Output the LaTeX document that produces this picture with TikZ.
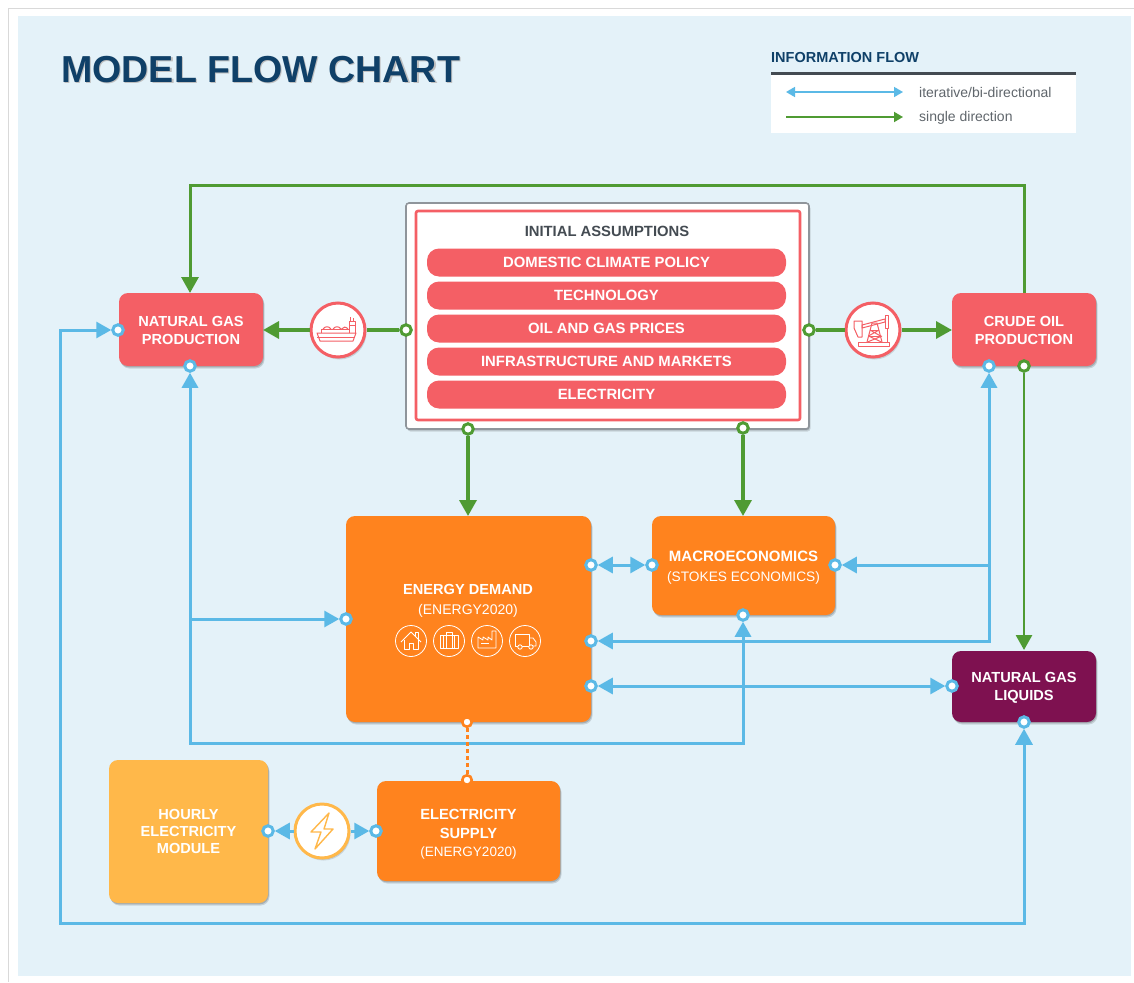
\documentclass[tikz,border=0pt]{standalone}
\usepackage{fontspec}
\setmainfont{Liberation Sans}
\usetikzlibrary{arrows.meta,shadows,positioning,calc}
\definecolor{bgblue}{HTML}{E4F2F9}
\definecolor{navy}{HTML}{0F4068}
\definecolor{lineblue}{HTML}{5BB9E6}
\definecolor{flowgreen}{HTML}{4F9B33}
\definecolor{redbox}{HTML}{F45F65}
\definecolor{orangebox}{HTML}{FF831E}
\definecolor{amberbox}{HTML}{FFB84A}
\definecolor{plum}{HTML}{7E1150}
\definecolor{slate}{HTML}{444B52}
\definecolor{bordergray}{HTML}{8F959B}
\newcommand{\tallstrut}[1]{\rule{0pt}{#1pt}}
\tikzset{
 softshadow/.style={drop shadow={shadow xshift=1.5pt,shadow yshift=-2.5pt,opacity=.13,fill=black},drop shadow={shadow xshift=.8pt,shadow yshift=-1.3pt,opacity=.17,fill=black}},
 box/.style={rounded corners=9pt,inner sep=0pt,text=white,align=center,softshadow},
 lbl/.style={font=\fontsize{14.6}{18}\selectfont\bfseries},
 bar/.style={fill=redbox,rounded corners=12pt,minimum width=359pt,minimum height=28pt,inner sep=0pt,text=white,font=\fontsize{14.85}{17}\selectfont\bfseries},
 bluedot/.style={circle,fill=white,draw=lineblue,line width=3pt,minimum size=10.5pt,inner sep=0pt},
 greendot/.style={circle,fill=white,draw=flowgreen,line width=3pt,minimum size=10.5pt,inner sep=0pt},
 orangedot/.style={circle,fill=white,draw=orangebox,line width=2.6pt,minimum size=9.5pt,inner sep=0pt},
 bline/.style={draw=lineblue,line width=3pt,line join=miter},
 gline/.style={draw=flowgreen,line width=3.4pt,line join=miter},
 bighead/.tip={Triangle[length=16pt,width=17pt]},
 bhead/.tip={Triangle[length=15pt,width=16pt]},
 smallhead/.tip={Triangle[length=9pt,width=10pt]},
 iconcirc/.style={circle,fill=white,line width=3pt,minimum size=54pt,inner sep=0pt,softshadow},
 shipline/.style={draw=redbox,line width=1pt,line join=round},
 whiteline/.style={draw=white,line width=.8pt,line join=round},
 eicon/.style={circle,draw=white,line width=.8pt,minimum size=31pt,inner sep=0pt},
}
\begin{document}
\begin{tikzpicture}[x=1pt,y=-1pt]
\useasboundingbox (0,0) rectangle (1134,982);
\fill[white] (0,0) rectangle (1134,982);
\draw[gray!30,line width=1pt] (1134,9) -- (8,9) -- (8,982);
\fill[bgblue] (18,16) rectangle (1131,976);

% title
\node[anchor=west,inner sep=0pt,text=navy,font=\fontsize{37.6}{44}\selectfont\bfseries] (title) at (61,70) {\rlap{\hspace{1.2pt}\raisebox{-1.8pt}{\textcolor{gray!50}{MODEL FLOW CHART}}}MODEL FLOW CHART};

% legend
\fill[white] (771,74) rectangle (1076,133);
\draw[slate,line width=2.6pt] (771,73.5) -- (1076,73.5);
\node[anchor=west,inner sep=0pt,text=navy,font=\fontsize{14.5}{16}\selectfont\bfseries] (legt) at (771,58) {INFORMATION FLOW};
\coordinate (la) at (786,92); \coordinate (lb) at (903,92);
\coordinate (lc) at (786,117); \coordinate (ld) at (903,117);
\draw[draw=lineblue,line width=1.6pt,{smallhead[fill=lineblue]}-{smallhead[fill=lineblue]}] (la) -- (lb);
\draw[draw=flowgreen,line width=1.8pt,-{smallhead[fill=flowgreen]}] (lc) -- (ld);
\node[anchor=west,inner sep=0pt,text=slate!85,font=\fontsize{14}{16}\selectfont] (l1) at (919,92) {iterative/bi-directional};
\node[anchor=west,inner sep=0pt,text=slate!85,font=\fontsize{14}{16}\selectfont] (l2) at (919,117) {\tallstrut{12}single direction};

% boxes
\node[box,fill=redbox,minimum width=144pt,minimum height=73pt,lbl] (ngp) at (191,329.5) {\tallstrut{13}NATURAL GAS\\PRODUCTION};
\node[box,fill=redbox,minimum width=144pt,minimum height=73pt,lbl] (crude) at (1024,329.5) {\tallstrut{13}CRUDE OIL\\PRODUCTION};
\node[box,fill=plum,minimum width=144pt,minimum height=71pt,lbl] (ngl) at (1024,686.5) {\tallstrut{13}NATURAL GAS\\LIQUIDS};
\node[box,fill=orangebox,minimum width=245pt,minimum height=206pt] (ed) at (468.5,619) {};
\node[anchor=center,inner sep=0pt,text=white,align=center,font=\fontsize{14.6}{20}\selectfont] (edt) at (468,601) {\textbf{ENERGY DEMAND}\\{\fontsize{14}{20}\selectfont(ENERGY2020)}};
\node[box,fill=orangebox,minimum width=183pt,minimum height=99pt,font=\fontsize{15}{20}\selectfont] (mac) at (743.5,565.5) {\tallstrut{15.5}\textbf{MACROECONOMICS}\\{\fontsize{13.7}{20}\selectfont(STOKES ECONOMICS)}};
\node[box,fill=orangebox,minimum width=183pt,minimum height=100pt,font=\fontsize{14.7}{18.5}\selectfont] (es) at (468.5,831) {\tallstrut{17}\textbf{ELECTRICITY}\\\textbf{SUPPLY}\\{\fontsize{13.5}{18.5}\selectfont(ENERGY2020)}};
\node[box,fill=amberbox,minimum width=159pt,minimum height=143pt,font=\fontsize{14.6}{17}\selectfont\bfseries] (hem) at (188.5,831.5) {HOURLY\\ELECTRICITY\\MODULE};

% initial assumptions
\node[fill=white,draw=bordergray,line width=1.6pt,rounded corners=3pt,minimum width=403pt,minimum height=226pt,inner sep=0pt,softshadow] (ia) at (607.5,316) {};
\node[draw=redbox,line width=2.6pt,rounded corners=2pt,minimum width=384pt,minimum height=209pt,inner sep=0pt] (iai) at (608,315.5) {};
\node[inner sep=0pt,text=slate,font=\fontsize{14.8}{17}\selectfont\bfseries] (iat) at (607,231) {INITIAL ASSUMPTIONS};
\node[bar] (b1) at (606.5,262.5) {DOMESTIC CLIMATE POLICY};
\node[bar] (b2) at (606.5,295.5) {TECHNOLOGY};
\node[bar] (b3) at (606.5,328.5) {OIL AND GAS PRICES};
\node[bar] (b4) at (606.5,361.5) {INFRASTRUCTURE AND MARKETS};
\node[bar] (b5) at (606.5,394.5) {ELECTRICITY};

% icon circles
\node[iconcirc,draw=redbox] (ship) at (338,330) {};
\node[iconcirc,draw=redbox] (pump) at (873,330) {};
\node[iconcirc,draw=amberbox] (bolt) at (322,831) {};

% dots
\node[greendot] (gIaL) at (406,330) {};
\node[greendot] (gIaR) at (809,330) {};
\node[greendot] (gIaB1) at (468,429) {};
\node[greendot] (gIaB2) at (743,428) {};
\node[greendot] (gCrB) at (1024,366) {};
\node[bluedot] (dNgL) at (118,330) {};
\node[bluedot] (dNgB) at (190,366) {};
\node[bluedot] (dCrB) at (989,366) {};
\node[bluedot] (dEdL) at (346,619) {};
\node[bluedot] (dEdR1) at (591,565) {};
\node[bluedot] (dEdR2) at (591,641) {};
\node[bluedot] (dEdR3) at (591,686) {};
\node[bluedot] (dMacL) at (652,565) {};
\node[bluedot] (dMacR) at (835,565) {};
\node[bluedot] (dMacB) at (743,615) {};
\node[bluedot] (dNglL) at (952,686) {};
\node[bluedot] (dNglB) at (1024,722) {};
\node[bluedot] (dHem) at (268,831) {};
\node[bluedot] (dEs) at (376,831) {};
\node[orangedot] (oEdB) at (467,722) {};
\node[orangedot] (oEsT) at (467,780) {};

% route coordinates
\coordinate (gT1) at (1024,185); \coordinate (gT2) at (190,185);
\coordinate (gNgT) at (190,293);
\coordinate (gCrL) at (952,330); \coordinate (gNgR) at (263,330);
\coordinate (gCrT) at (1024,293);
\coordinate (gEdT) at (468,516); \coordinate (gMacT) at (743,516);
\coordinate (gNglT) at (1024,650);
\coordinate (rA) at (60,330); \coordinate (rB) at (60,923); \coordinate (rC) at (1024,923);
\coordinate (rD) at (190,743); \coordinate (rE) at (743,743);
\coordinate (rF) at (190,619);
\coordinate (rG) at (989,641); \coordinate (rH) at (989,565);

% green connectors
\draw[gline,line width=3pt,-{bighead[fill=flowgreen]}] (gCrT) -- (gT1) -- (gT2) -- (gNgT);
\draw[gline] (gIaL) -- (ship);
\draw[gline,-{bighead[fill=flowgreen]}] (ship) -- (gNgR);
\draw[gline] (gIaR) -- (pump);
\draw[gline,-{bighead[fill=flowgreen]}] (pump) -- (gCrL);
\draw[gline,-{bighead[fill=flowgreen]}] (gIaB1) -- (gEdT);
\draw[gline,-{bighead[fill=flowgreen]}] (gIaB2) -- (gMacT);
\draw[gline,line width=2.8pt,-{bhead[fill=flowgreen]}] (gCrB) -- (gNglT);

% blue connectors
\draw[bline,{bhead[fill=lineblue]}-{bighead[fill=lineblue]}] (dNgL) -- (rA) -- (rB) -- (rC) -- (dNglB);
\draw[bline,{bhead[fill=lineblue]}-{bhead[fill=lineblue]}] (dNgB) -- (rD) -- (rE) -- (dMacB);
\draw[bline,-{bhead[fill=lineblue]}] (rF) -- (dEdL);
\draw[bline,{bhead[fill=lineblue]}-{bhead[fill=lineblue]}] (dCrB) -- (rG) -- (dEdR2);
\draw[bline,-{bhead[fill=lineblue]}] (rH) -- (dMacR);
\draw[bline,{bhead[fill=lineblue]}-{bhead[fill=lineblue]}] (dEdR1) -- (dMacL);
\draw[bline,{bhead[fill=lineblue]}-{bhead[fill=lineblue]}] (dEdR3) -- (dNglL);
\draw[bline,-{bhead[fill=lineblue]}] (bolt) -- (dHem);
\draw[bline,-{bhead[fill=lineblue]}] (bolt) -- (dEs);
\draw[draw=orangebox,line width=3pt,dash pattern=on 4pt off 3pt] (oEdB) -- (oEsT);

% ship icon
\begin{scope}[shift={(338,330)},shipline]
 \draw (-21,3) -- (18,3) -- (15,11) -- (-18,11) -- cycle;
 \draw (-21,7) -- (16.5,7);
 \draw (-17,3) -- (-17,-1) -- (11,-1) -- (11,3);
 \draw (-15,-1) .. controls (-13,-4) and (-9,-4) .. (-7,-1);
 \draw (-5,-1) .. controls (-3,-4) and (1,-4) .. (3,-1);
 \draw (3.5,-1) .. controls (5,-3.5) and (8,-3.5) .. (10,-1);
 \draw (11,3) -- (11,-9) -- (17,-9) -- (17,3);
 \draw (11,-5) -- (17,-5);
 \draw (12.5,-9) -- (12.5,-13) (15,-9) -- (15,-12);
\end{scope}
% pump icon
\begin{scope}[shift={(873,330)},shipline]
 \draw (-15,12) rectangle (16,16.5);
 \draw (-6,12) -- (-1,-7) -- (4,-7) -- (9,12);
 \draw (-4.5,6) -- (7.5,6) (-3,0) -- (6,0);
 \draw (-4.5,6) -- (6,0) (7.5,6) -- (-3,0);
 \draw (-5.5,12) -- (9,6) (8.5,12) -- (-4.5,6);
 \draw (-11,-5) -- (12,-11) -- (12,-8) -- (-11,-2) -- cycle;
 \draw (-11,-9) -- (-19,-9) -- (-19,-2) -- (-15,7) -- (-11,7) -- cycle;
 \draw (12,-15) -- (15.5,-15) -- (15.5,-2) -- (12,-2) -- cycle;
 \draw (14,-2) -- (14,12);
\end{scope}
% bolt icon
\begin{scope}[shift={(322,831)}]
 \draw[draw=amberbox,line width=1.4pt,line join=round] (7,-18) -- (-11,1) -- (-1,1) -- (-7,18) -- (11,-2) -- (2,-2) -- cycle;
\end{scope}

% energy demand icons
\node[eicon] (iHouse) at (411,641) {};
\node[eicon] (iBldg) at (449,641) {};
\node[eicon] (iFact) at (487,641) {};
\node[eicon] (iTruck) at (525,641) {};
\begin{scope}[shift={(411,641)},whiteline]
 \draw (-10,1) -- (0,-9) -- (10,1);
 \draw (-7,-1) -- (-7,8.5) -- (-2,8.5) -- (-2,2) -- (2,2) -- (2,8.5) -- (7,8.5) -- (7,-1);
 \draw (4,-5) -- (4,-9) -- (7,-9) -- (7,-2);
\end{scope}
\begin{scope}[shift={(449,641)},whiteline]
 \draw (-9,-6) rectangle (9,7.5);
 \draw (-5.5,-6) -- (-5.5,7.5) (5.5,-6) -- (5.5,7.5);
 \draw (-3,-9) rectangle (3,7.5);
\end{scope}
\begin{scope}[shift={(487,641)},whiteline]
 \draw (-9,7) -- (-9,-4) -- (-4,-1) -- (-4,-4) -- (1,-1) -- (1,-4) -- (5,-1) -- (5,-10) -- (9,-10) -- (9,7) -- cycle;
 \draw (-6,2) -- (2,2);
\end{scope}
\begin{scope}[shift={(525,641)},whiteline]
 \draw (-10,5) -- (-10,-7) -- (4,-7) -- (4,5) -- cycle;
 \draw (4,-3) -- (8,-3) -- (11,1) -- (11,5) -- (4,5);
 \draw[fill=orangebox] (-5,6) circle (2.2);
 \draw[fill=orangebox] (6,6) circle (2.2);
\end{scope}
\end{tikzpicture}
\end{document}
